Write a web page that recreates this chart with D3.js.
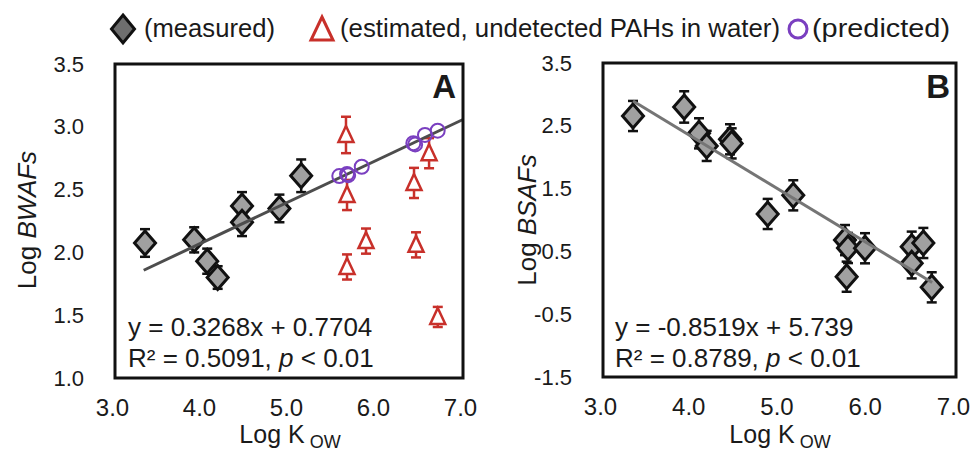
<!DOCTYPE html>
<html><head><meta charset="utf-8">
<script src="https://cdn.jsdelivr.net/npm/d3@7"></script>
<style>
html,body{margin:0;padding:0;background:#fff;}
svg text{font-family:"Liberation Sans",Arial,sans-serif;fill:#1a1a1a;}
</style></head>
<body><svg id="c" width="971" height="452"></svg>
<script>
// ---- Data ----
const xTicks = [3.0, 4.0, 5.0, 6.0, 7.0];
const yTicksA = [1.0, 1.5, 2.0, 2.5, 3.0, 3.5];
const yTicksB = [-1.5, -0.5, 0.5, 1.5, 2.5, 3.5];

// Panel A measured
const measA_x = [3.345, 3.91, 4.06, 4.18, 4.46, 4.46, 4.89, 5.14];
const measA_y = [2.075, 2.10, 1.93, 1.80, 2.37, 2.24, 2.35, 2.61];
const measA_e = [0.11, 0.10, 0.10, 0.09, 0.11, 0.11, 0.11, 0.13];
// Panel A estimated (triangles)
const estA_x = [5.655, 5.667, 5.667, 5.885, 6.437, 6.46, 6.61, 6.71];
const estA_y = [2.935, 2.457, 1.884, 2.09, 2.553, 2.06, 2.79, 1.486];
const estA_e = [0.145, 0.12, 0.10, 0.10, 0.12, 0.10, 0.12, 0.08];
// Panel A predicted (circles)
const predA_x = [5.578, 5.667, 5.68, 5.836, 6.429, 6.45, 6.563, 6.709];
const predA_y = [2.608, 2.624, 2.615, 2.682, 2.869, 2.86, 2.935, 2.969];
// Panel A trend line endpoints
const trendA_x = [3.33, 7.0];
const trendA_y = [1.858, 3.058];

// Panel B measured
const measB_x = [3.34, 3.92, 4.088, 4.175, 4.439, 4.458, 4.866, 5.156, 5.742, 5.776, 5.761, 5.969, 6.498, 6.498, 6.63, 6.725];
const measB_y = [2.656, 2.80, 2.38, 2.18, 2.285, 2.22, 1.096, 1.393, 0.68, 0.554, 0.097, 0.55, 0.575, 0.31, 0.634, -0.072];
const measB_e = [0.24, 0.25, 0.24, 0.24, 0.24, 0.24, 0.24, 0.24, 0.24, 0.24, 0.24, 0.24, 0.24, 0.24, 0.24, 0.24];
const trendB_x = [3.34, 6.73];
const trendB_y = [2.894, 0.006];

// ---- Drawing ----
const svg = d3.select("#c");
const FONT = '"Liberation Sans",Arial,sans-serif';
const fmt = v => d3.format(".1f")(v).replace("\u2212","-");

function panel(opts){
  const x = d3.scaleLinear().domain([3,7]).range(opts.xr);
  const y = d3.scaleLinear().domain(opts.yd).range(opts.yr);
  const g = svg.append("g");
  const ya = g.append("g").attr("transform",`translate(${opts.xr[0]},0)`)
    .call(d3.axisLeft(y).tickValues(opts.yTicks).tickSize(0).tickPadding(31).tickFormat(fmt));
  ya.select(".domain").remove();
  ya.selectAll("text").attr("font-size",22).attr("font-family",FONT).attr("fill","#1a1a1a");
  const xa = g.append("g").attr("transform",`translate(-3,${opts.yr[0]})`)
    .call(d3.axisBottom(x).tickValues(xTicks).tickSize(0).tickPadding(21).tickFormat(fmt));
  xa.select(".domain").remove();
  xa.selectAll("text").attr("font-size",24).attr("font-family",FONT).attr("fill","#1a1a1a");
  return {x,y,g};
}

function errBars(g, x, y, xs, ys, es, color, w){
  xs.forEach((xv,i)=>{
    const cx = x(xv), y1 = y(ys[i]+es[i]), y2 = y(ys[i]-es[i]);
    g.append("line").attr("x1",cx).attr("x2",cx).attr("y1",y1).attr("y2",y2).attr("stroke",color).attr("stroke-width",w);
    [y1,y2].forEach(yy=>g.append("line").attr("x1",cx-5).attr("x2",cx+5).attr("y1",yy).attr("y2",yy).attr("stroke",color).attr("stroke-width",w));
  });
}
function diamonds(g, x, y, xs, ys){
  xs.forEach((xv,i)=>{
    const cx=x(xv), cy=y(ys[i]);
    g.append("path").attr("d",`M${cx},${cy-12}L${cx+10.5},${cy}L${cx},${cy+12}L${cx-10.5},${cy}Z`)
      .attr("fill","#a0a0a0").attr("stroke","#111").attr("stroke-width",3).attr("stroke-linejoin","miter");
  });
}
function triangles(g, x, y, xs, ys){
  xs.forEach((xv,i)=>{
    const cx=x(xv), cy=y(ys[i]);
    g.append("path").attr("d",`M${cx},${cy-9}L${cx+7.5},${cy+7}L${cx-7.5},${cy+7}Z`)
      .attr("fill","#fff").attr("stroke","#c8302a").attr("stroke-width",2.5);
  });
}

// Panel A
const A = panel({xr:[115,463], yd:[1,3.5], yr:[378,64], yTicks:yTicksA});
errBars(A.g, A.x, A.y, measA_x, measA_y, measA_e, "#111", 2.5);
diamonds(A.g, A.x, A.y, measA_x, measA_y);
errBars(A.g, A.x, A.y, estA_x, estA_y, estA_e, "#c8302a", 2.5);
triangles(A.g, A.x, A.y, estA_x, estA_y);
A.g.append("line").attr("x1",A.x(trendA_x[0])).attr("y1",A.y(trendA_y[0])).attr("x2",A.x(trendA_x[1])).attr("y2",A.y(trendA_y[1]))
  .attr("stroke","#4d4d4d").attr("stroke-width",3);
predA_x.forEach((xv,i)=>{
  A.g.append("circle").attr("cx",A.x(xv)).attr("cy",A.y(predA_y[i])).attr("r",7)
    .attr("fill","none").attr("stroke","#7a3fc0").attr("stroke-width",2);
});
A.g.append("rect").attr("x",115).attr("y",64).attr("width",348).attr("height",314).attr("fill","none").attr("stroke","#111").attr("stroke-width",3);

// Panel B
const B = panel({xr:[603,956], yd:[-1.5,3.5], yr:[377,63], yTicks:yTicksB});
errBars(B.g, B.x, B.y, measB_x, measB_y, measB_e, "#111", 2.5);
diamonds(B.g, B.x, B.y, measB_x, measB_y);
B.g.append("line").attr("x1",B.x(trendB_x[0])).attr("y1",B.y(trendB_y[0])).attr("x2",B.x(trendB_x[1])).attr("y2",B.y(trendB_y[1]))
  .attr("stroke","#757575").attr("stroke-width",3);
B.g.append("rect").attr("x",603).attr("y",63).attr("width",353).attr("height",314).attr("fill","none").attr("stroke","#111").attr("stroke-width",3);

// Panel letters
svg.append("text").attr("x",456).attr("y",98).attr("text-anchor","end").attr("font-size",33).attr("font-weight","bold").text("A");
svg.append("text").attr("x",950).attr("y",98).attr("text-anchor","end").attr("font-size",33).attr("font-weight","bold").text("B");

// Equations
function eq(x0, l1, r2){
  svg.append("text").attr("x",x0).attr("y",336).attr("font-size",26).text(l1);
  const t2 = svg.append("text").attr("x",x0).attr("y",367).attr("font-size",26);
  t2.append("tspan").text(`R² = ${r2}, `);
  t2.append("tspan").attr("font-style","italic").text("p");
  t2.append("tspan").text(" < 0.01");
}
eq(128, "y = 0.3268x + 0.7704", "0.5091");
eq(615, "y = -0.8519x + 5.739", "0.8789");

// Axis titles
function ytitle(cx, cy, it){
  const t = svg.append("text").attr("transform",`translate(${cx},${cy}) rotate(-90)`).attr("text-anchor","middle").attr("font-size",26);
  t.append("tspan").text("Log ");
  t.append("tspan").attr("font-style","italic").text(it);
}
ytitle(36, 220, "BWAFs");
ytitle(536, 220, "BSAFs");
function xtitle(cx){
  const t = svg.append("text").attr("x",cx).attr("y",443).attr("text-anchor","middle").attr("font-size",25);
  t.append("tspan").text("Log K");
  t.append("tspan").attr("font-size",18).attr("dy",5).attr("dx",5).text("OW");
}
xtitle(290); xtitle(780);

// Legend
const lg = svg.append("g");
lg.append("path").attr("d","M123,15L134.5,29L123,43L111.5,29Z").attr("fill","#6e6e6e").attr("stroke","#111").attr("stroke-width",3);
lg.append("text").attr("x",144).attr("y",37).attr("font-size",25).attr("textLength",131).attr("lengthAdjust","spacingAndGlyphs").text("(measured)");
lg.append("path").attr("d","M322,17L333,40L311,40Z").attr("fill","#fff").attr("stroke","#c8302a").attr("stroke-width",3);
lg.append("text").attr("x",340).attr("y",37).attr("font-size",25).attr("textLength",440).attr("lengthAdjust","spacingAndGlyphs").text("(estimated, undetected PAHs in water)");
lg.append("circle").attr("cx",798).attr("cy",29).attr("r",9).attr("fill","none").attr("stroke","#7a3fc0").attr("stroke-width",3);
lg.append("text").attr("x",812).attr("y",37).attr("font-size",25).attr("textLength",138).attr("lengthAdjust","spacingAndGlyphs").text("(predicted)");
</script></body></html>
